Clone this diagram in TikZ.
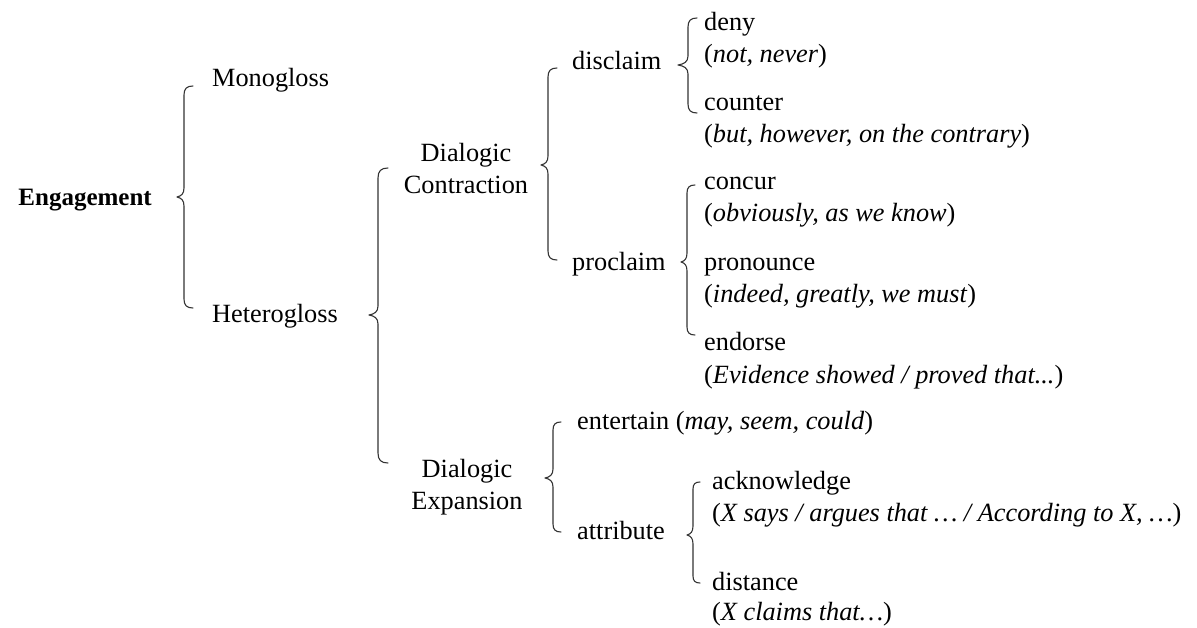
\documentclass[tikz,border=0pt]{standalone}
\usepackage{fontspec}
\setmainfont{Liberation Serif}
\begin{document}
\begin{tikzpicture}[x=1pt,y=-1pt,
  lbl/.style={inner sep=0pt, anchor=base west, font=\rmfamily\fontsize{26.3}{32}\selectfont},
  clbl/.style={inner sep=0pt, anchor=base, font=\rmfamily\fontsize{26.3}{32}\selectfont},
  brc/.style={draw=black!80, line width=1.1pt, line cap=round, line join=round}]
\useasboundingbox (0,0) rectangle (1197,628);
% #1 x of line, #2 top y, #3 tip y, #4 bottom y, #5 tip depth, #6 hook size
\newcommand\mybrc[6]{%
  \draw[brc] ({#1+#6},#2) .. controls ({#1+0.3*#6},#2) and (#1,{#2+0.3*#6}) .. (#1,{#2+#6})
    -- (#1,{#3-9}) .. controls (#1,{#3-3}) and ({#1-0.4*#5},{#3-1}) .. ({#1-#5},#3)
    .. controls ({#1-0.4*#5},{#3+1}) and (#1,{#3+3}) .. (#1,{#3+9})
    -- (#1,{#4-#6}) .. controls (#1,{#4-0.3*#6}) and ({#1+0.3*#6},#4) .. ({#1+#6},#4);}

\node[inner sep=0pt, anchor=base east, font=\rmfamily\fontsize{25}{32}\selectfont\bfseries] (eng) at (152,206) {Engagement};
\node[lbl] (mono) at (212,87) {Monogloss};
\node[lbl] (hetero) at (212,323) {Heterogloss};
\node[clbl] (dc1) at (466,162) {Dialogic};
\node[clbl] (dc2) at (466,194) {Contraction};
\node[clbl] (de1) at (467,477) {Dialogic};
\node[clbl] (de2) at (467,509) {Expansion};
\node[lbl] (discl) at (572,70) {disclaim};
\node[lbl] (procl) at (572,271) {proclaim};
\node[lbl] (entert) at (577,429) {entertain (\textit{may, seem, could})};
\node[lbl] (attrib) at (577,539) {attribute};
\node[lbl] (deny) at (704,31) {deny};
\node[lbl] (denyx) at (704,63) {(\textit{not, never})};
\node[lbl] (counter) at (704,111) {counter};
\node[lbl] (counterx) at (704,143) {(\textit{but, however, on the contrary})};
\node[lbl] (concur) at (704,190) {concur};
\node[lbl] (concurx) at (704,222) {(\textit{obviously, as we know})};
\node[lbl] (pron) at (704,271) {pronounce};
\node[lbl] (pronx) at (704,303) {(\textit{indeed, greatly, we must})};
\node[lbl] (endorse) at (704,351) {endorse};
\node[lbl] (endorsex) at (704,383) {(\textit{Evidence showed / proved that...})};
\node[lbl] (ack) at (712,489) {acknowledge};
\node[lbl] (ackx) at (712,521) {(\textit{X says / argues that … / According to X, …})};
\node[lbl] (dist) at (712,590) {distance};
\node[lbl] (distx) at (712,620) {(\textit{X claims that…})};

\mybrc{184}{86}{197}{308}{7}{9}
\mybrc{378}{168}{315}{463}{9}{10}
\mybrc{548}{68}{165}{260}{7}{9}
\mybrc{688}{18}{65}{113}{10}{9}
\mybrc{687}{185}{262}{335}{6}{8}
\mybrc{553}{422}{478}{532}{8}{8}
\mybrc{693}{482}{535}{583}{6}{7}
\end{tikzpicture}
\end{document}
